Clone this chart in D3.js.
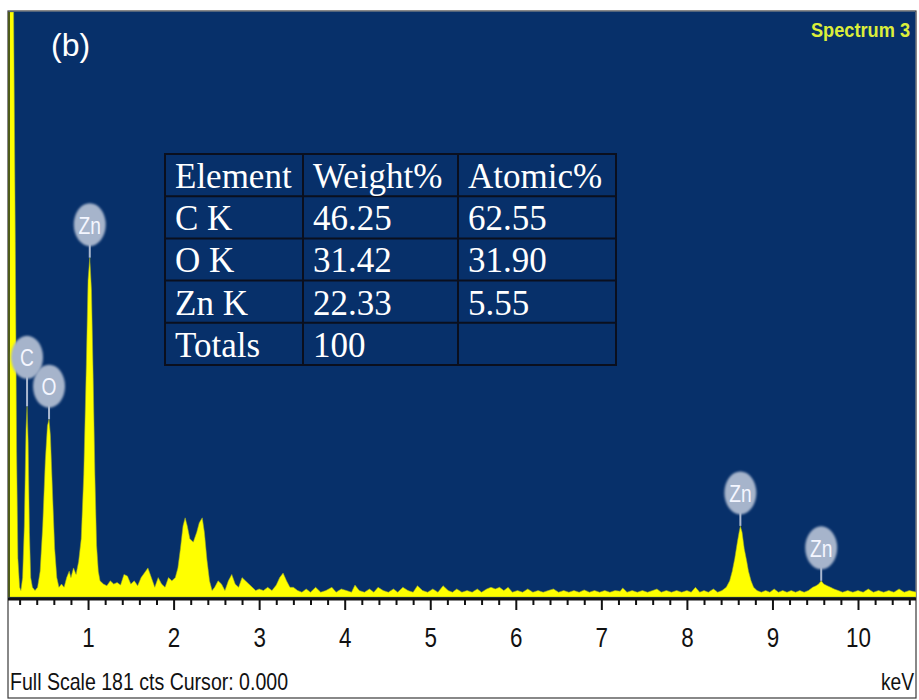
<!DOCTYPE html>
<html><head><meta charset="utf-8">
<script src="https://cdn.jsdelivr.net/npm/d3@7"></script>
<style>body{margin:0;background:#fff}</style>
</head><body>
<svg id="chart" width="919" height="700"></svg>
<script>
// ---- data ----
const energy = [0.07,0.13,0.15,0.165,0.18,0.20,0.215,
  0.235,0.255,0.275,0.287,0.30,0.315,0.33,0.35,0.38,
  0.41,0.44,0.47,0.50,0.525,0.544,0.56,0.585,0.61,0.635,0.66,
  0.69,0.72,0.75,0.78,0.80,0.83,0.86,0.89,
  0.92,0.95,0.98,1.00,1.02,1.04,1.06,1.08,1.10,1.12,1.14,
  1.18,1.22,1.26,1.30,1.34,1.38,1.42,1.46,1.50,1.54,1.58,1.62,1.66,1.70,1.74,1.78,1.82,1.86,1.90,1.94,1.98,2.02,
  2.05,2.08,2.11,2.135,2.16,2.19,2.23,2.27,2.30,2.335,2.36,2.39,2.42,2.45,
  2.48,2.52,2.56,2.60,2.64,2.68,2.72,2.76,2.80,2.84,2.88,2.92,2.96,3.00,3.05,3.10,3.15,3.20,3.24,3.28,3.32,3.36,
  3.40,3.45,3.50,3.55,3.60,3.66,3.72,3.78,3.85,3.90,3.96,4.02,4.08,4.12,4.17,4.23,4.29,4.34,4.39,4.45,4.51,4.57,4.62,4.68,
  4.74,4.80,4.85,4.91,4.97,5.03,5.09,5.15,5.21,5.26,5.31,5.37,5.43,5.49,5.55,5.60,5.66,5.71,5.76,5.81,5.86,5.91,5.96,
  6.02,6.08,6.14,6.20,6.26,6.32,6.38,6.44,6.50,6.56,6.62,6.68,6.74,6.80,6.86,6.92,6.98,7.04,7.10,7.16,7.22,7.25,7.30,
  7.36,7.42,7.48,7.54,7.60,7.65,7.70,7.76,7.82,7.88,7.94,8.00,8.05,8.10,8.15,8.20,8.25,8.31,8.36,8.41,8.46,
  8.50,8.53,8.56,8.59,8.61,8.625,8.645,8.67,8.70,8.72,8.75,8.78,8.82,8.87,8.92,8.97,9.02,9.07,9.12,9.17,9.22,9.27,9.32,9.37,9.42,
  9.47,9.51,9.54,9.57,9.60,9.64,9.68,9.72,9.77,9.82,9.88,9.94,10.00,10.06,10.12,10.18,10.24,10.30,10.36,10.42,10.48,10.54,10.60,10.68];
const counts = [181,181,110,45,12,3,2,
  6,22,52,59,48,20,6,3,2,
  3,8,22,42,53,55,50,32,15,6,3,
  4,3,6,8,6,9,7,11,
  18,38,72,98,105,95,68,38,16,8,5,
  4,3.5,5,4,4.5,3.7,7,6.5,4,5,3.5,6,7.5,9,6,3,6,4,3,6,5,6,
  9,15,22,24.5,22,18,17,20,23,24.5,20,11.5,5,2,
  3,5,4,2,5,7,4,3,6,5,4,3,2,2.5,2,3,2,3.7,6,7.4,5,3,
  3,2,1.5,2.5,1.5,3,1.5,2,3,1.5,2.5,2,1.5,3.7,2,1.5,2.5,1.5,3,2,1.5,2.5,1.5,3,
  2,1.5,3.5,2,1.5,2.5,1.5,3.5,2,1.5,2.5,1.5,2,1.5,2.5,1.5,2.5,3,2.5,3,2,3,1.5,
  2,1.5,2.5,1.5,2,1.5,2,2.5,1.5,2,1.5,2,1.5,2.2,1.5,2,1.5,2,1.5,2,1.8,2.8,1.5,
  2,1.5,2,1.5,2,2.5,1.5,2,1.5,2,1.5,2,1.5,3,1.5,2,1.5,2.5,1.5,2,3,
  5,8,12,17,20,22,20,15,11,8,5,3,2,1.5,2,1.5,2.5,1.5,2,1.5,2,1.5,2,1.5,2,
  3,3.5,4,5,4,3.5,3,2.5,2,1.5,2,1.5,2,1.5,2.5,1.5,2,1.5,2,1.5,2.5,1.5,2,1.5];

const fullScale = 181;
const majorTicks = [1,2,3,4,5,6,7,8,9,10];
const minorTicks = [0.2,0.4,0.6,0.8,1.2,1.4,1.6,1.8,2.2,2.4,2.6,2.8,3.2,3.4,3.6,3.8,4.2,4.4,4.6,4.8,5.2,5.4,5.6,5.8,
  6.2,6.4,6.6,6.8,7.2,7.4,7.6,7.8,8.2,8.4,8.6,8.8,9.2,9.4,9.6,9.8,10.2,10.4,10.6];

const peakLabels = ["C","O","Zn","Zn","Zn"];
const peakEnergy = [0.287,0.544,1.02,8.625,9.57];
const peakCounts = [59,55,105,22,5];

const tableHeader = ["Element","Weight%","Atomic%"];
const tableElement = ["C K","O K","Zn K","Totals"];
const tableWeight = ["46.25","31.42","22.33","100"];
const tableAtomic = ["62.55","31.90","5.55",""];

const panelLabel = "(b)";
const spectrumName = "Spectrum 3";
const footerText = "Full Scale 181 cts Cursor: 0.000";
const unitText = "keV";

// ---- drawing ----
const svg = d3.select("#chart");
const blue = "#07306a";
const sans = "'Liberation Sans',Arial,sans-serif";
const squeeze = 0.8;

const frame = {left:8, top:11, right:916, bottom:698};
const plotBottom = 597;

const x = d3.scaleLinear().domain([0,10]).range([2.5, 858]);
const y = d3.scaleLinear().domain([0, fullScale]).range([plotBottom, 12]);

const defs = svg.append("defs");
defs.append("filter").attr("id","soft").append("feGaussianBlur").attr("stdDeviation",0.9);
defs.append("clipPath").attr("id","plotclip").append("rect")
  .attr("x",frame.left+1).attr("y",frame.top+1)
  .attr("width",frame.right-frame.left-1).attr("height",plotBottom-frame.top);

// narrow text helper (horizontally condensed sans, like the instrument font)
function narrowText(parent, tx, ty, str, size, fill, anchor){
  return parent.append("text")
    .attr("transform",`translate(${tx},${ty}) scale(${squeeze},1)`)
    .attr("text-anchor",anchor||"start")
    .attr("font-family",sans).attr("font-size",size).attr("fill",fill).text(str);
}

// frame
svg.append("rect").attr("x",frame.left).attr("y",frame.top)
  .attr("width",frame.right-frame.left).attr("height",frame.bottom-frame.top)
  .attr("fill","#fff").attr("stroke","#3a3a3a").attr("stroke-width",1.2);
svg.append("rect").attr("x",frame.left+0.6).attr("y",frame.top+0.6)
  .attr("width",frame.right-frame.left-1.2).attr("height",plotBottom+1-frame.top)
  .attr("fill",blue);

// spectrum
const pts = energy.map((e,i)=>[e,counts[i]]);
const area = d3.area().x(d=>x(d[0])).y0(y(0)).y1(d=>y(Math.min(d[1],fullScale))).curve(d3.curveLinear);
const g = svg.append("g").attr("clip-path","url(#plotclip)");
g.append("path").datum(pts).attr("d",area)
  .attr("fill","#ffff00").attr("stroke","#9aa82a").attr("stroke-width",0.8).attr("stroke-opacity",0.7);
svg.append("line").attr("x1",frame.left+1).attr("x2",frame.left+1).attr("y1",frame.top+1).attr("y2",plotBottom)
  .attr("stroke","#4d5a1a").attr("stroke-width",2);

// axis
const axisY = 599;
svg.append("line").attr("x1",frame.left).attr("x2",frame.right).attr("y1",axisY).attr("y2",axisY)
  .attr("stroke","#111").attr("stroke-width",3);
const axMinor = svg.append("g").attr("transform",`translate(0,${axisY})`)
  .call(d3.axisBottom(x).tickValues(minorTicks).tickSize(6).tickFormat(""));
axMinor.select(".domain").remove();
axMinor.selectAll("line").attr("stroke","#111").attr("stroke-width",2);
const axMajor = svg.append("g").attr("transform",`translate(0,${axisY})`)
  .call(d3.axisBottom(x).tickValues(majorTicks).tickSize(11).tickPadding(37).tickFormat(d3.format("d")));
axMajor.select(".domain").remove();
axMajor.selectAll("line").attr("stroke","#111").attr("stroke-width",2);
axMajor.selectAll("text").attr("font-family",sans).attr("font-size",28).attr("fill","#111").attr("dy","0")
  .attr("transform",`scale(${squeeze},1)`);

// peak badges
peakLabels.forEach((lab,i)=>{
  const px = x(peakEnergy[i]);
  const top = y(peakCounts[i]);
  const off = lab==="C" ? 49 : 33;
  const cy = top - off;
  svg.append("line").attr("x1",px).attr("x2",px).attr("y1",cy+18).attr("y2",top)
    .attr("stroke","#aab8cf").attr("stroke-width",2);
  svg.append("ellipse").attr("cx",px).attr("cy",cy).attr("rx",16).attr("ry",21.5)
    .attr("fill","#a6b4cb").attr("filter","url(#soft)");
  narrowText(svg, px, cy+9, lab, 24, "#f4f6ff", "middle");
});

// texts
svg.append("text").attr("x",51).attr("y",56).attr("font-family",sans)
  .attr("font-size",32).attr("fill","#fff").text(panelLabel);
svg.append("text").attr("x",811).attr("y",37).attr("font-family",sans).attr("font-weight","bold")
  .attr("font-size",20).attr("fill","#dcee3a").attr("textLength",99).attr("lengthAdjust","spacingAndGlyphs")
  .text(spectrumName);
svg.append("text").attr("x",10).attr("y",690).attr("font-family",sans)
  .attr("font-size",24).attr("fill","#111").attr("textLength",278).attr("lengthAdjust","spacingAndGlyphs")
  .text(footerText);
narrowText(svg, 914, 690, unitText, 24, "#111", "end");

// table
const tx = [165,303,458,616];
const ty0 = 154, rowH = 42.2;
const rows = [tableHeader].concat(tableElement.map((e,i)=>[e,tableWeight[i],tableAtomic[i]]));
const tg = svg.append("g");
tg.append("rect").attr("x",tx[0]).attr("y",ty0).attr("width",tx[3]-tx[0]).attr("height",rowH*rows.length)
  .attr("fill",blue).attr("stroke","#0a0f1e").attr("stroke-width",2);
for(let r=1;r<rows.length;r++){
  tg.append("line").attr("x1",tx[0]).attr("x2",tx[3]).attr("y1",ty0+r*rowH).attr("y2",ty0+r*rowH)
    .attr("stroke","#0a0f1e").attr("stroke-width",2);
}
[1,2].forEach(c=>tg.append("line").attr("x1",tx[c]).attr("x2",tx[c]).attr("y1",ty0).attr("y2",ty0+rowH*rows.length)
  .attr("stroke","#0a0f1e").attr("stroke-width",2));
rows.forEach((row,r)=>row.forEach((cell,c)=>{
  tg.append("text").attr("x",tx[c]+10).attr("y",ty0+r*rowH+34)
    .attr("font-family","'Liberation Serif','Times New Roman',serif").attr("font-size",35)
    .attr("fill","#fff").text(cell);
}));
</script>
</body></html>
